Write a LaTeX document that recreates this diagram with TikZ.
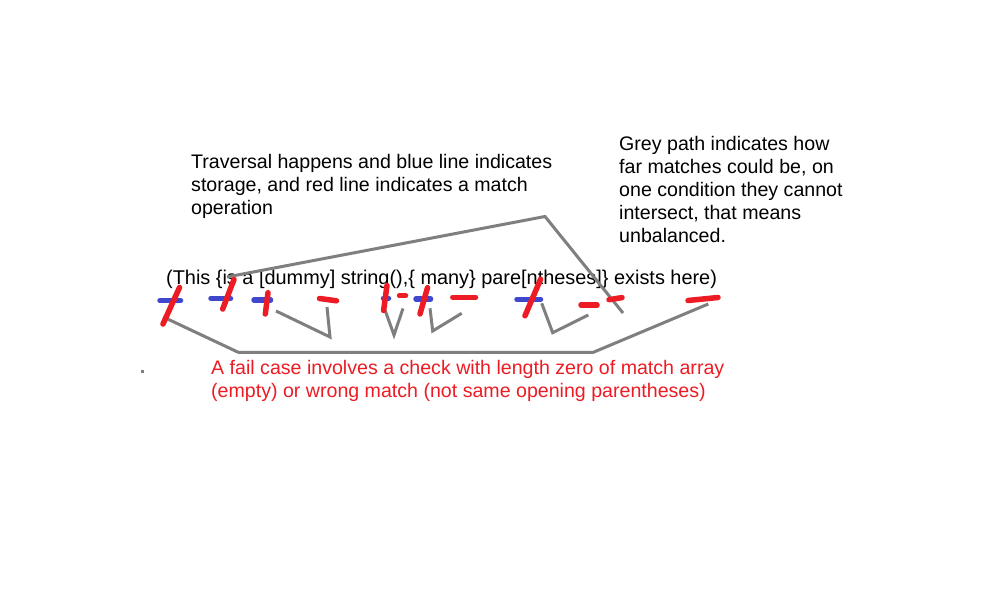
\documentclass[tikz,border=0pt]{standalone}
\usepackage{fontspec}
\setmainfont{Liberation Sans}
\definecolor{markred}{HTML}{ED1C24}
\definecolor{markblue}{HTML}{3F48CC}
\definecolor{pathgrey}{HTML}{7F7F7F}

\begin{document}
\begin{tikzpicture}[x=1pt,y=-1pt]
\tikzset{
  note/.style={inner sep=0pt,anchor=base west,align=left,font=\fontsize{19.6pt}{23pt}\selectfont},
  storage/.style={draw=markblue,line width=5.5pt,line cap=round},
  matchop/.style={draw=markred,line width=5.5pt,line cap=round},
  greypath/.style={draw=pathgrey,line width=3pt}
}
\useasboundingbox[fill=white] (0,0) rectangle (1005,609);
% notes (base = last line)
\node[note] (travnote) at (191,215) {Traversal happens and blue line indicates\\storage, and red line indicates a match\\operation};
\node[note] (greynote) at (619,242.5) {Grey path indicates how\\far matches could be, on\\one condition they cannot\\intersect, that means\\unbalanced.};
\node[note,font=\fontsize{19.9pt}{23pt}\selectfont] (sample) at (166,285) {(This \{is a [dummy] string(),\{ many\} pare[ntheses]\} exists here)};
\node[note,text=markred] (failnote) at (211,398) {A fail case involves a check with length zero of match array\\(empty) or wrong match (not same opening parentheses)};
% grey paths
\draw[greypath] (227,277) -- (545,216.5) -- (623,313);
\draw[greypath] (163.3,317) -- (238.3,352.3) -- (593.3,352.3) -- (708.3,304);
\draw[greypath] (276,311) -- (330,337) -- (327,307);
\draw[greypath] (385,310) -- (394,335) -- (403,308.5);
\draw[greypath] (430,308.3) -- (432.7,331) -- (461.7,313.3);
\draw[greypath] (541.7,303.3) -- (552.7,332.7) -- (588.3,315);
\fill[pathgrey] (141.2,370.2) rectangle (144.2,373.2);
% storage
\draw[storage] (160,300.7) -- (180.5,300.7);
\draw[storage] (211,298.3) -- (230.5,298.3);
\draw[storage] (254,300) -- (270.5,300);
\draw[storage] (383.5,298.3) -- (388.5,298.3);
\draw[storage] (416,299) -- (430.5,299);
\draw[storage] (517,299.3) -- (540.5,299.3);
% matches
\draw[matchop] (163,324) -- (179.5,287.5);
\draw[matchop] (222.7,309) -- (234,279.5);
\draw[matchop] (265.3,314) -- (268,292.7);
\draw[matchop] (319.5,298.5) -- (336.5,300.8);
\draw[matchop] (383.6,310.5) -- (387,285.5);
\draw[matchop] (399.5,295.7) -- (405.5,295.7);
\draw[matchop] (420,314) -- (427.5,287.7);
\draw[matchop] (452.8,297.3) -- (475.5,297.3);
\draw[matchop] (525,315.8) -- (540.6,279.2);
\draw[matchop] (581,305) -- (597,305);
\draw[matchop] (609,299.7) -- (622,297.6);
\draw[matchop] (688,300.5) -- (718,297.5);
\end{tikzpicture}
\end{document}
